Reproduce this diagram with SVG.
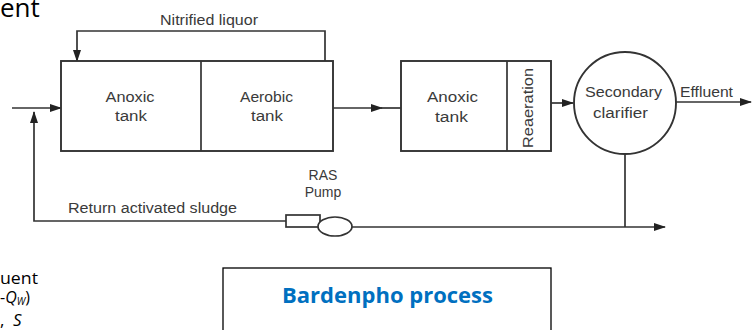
<svg xmlns="http://www.w3.org/2000/svg" width="756" height="330" viewBox="0 0 756 330">
<style>
.ln{fill:none;stroke:#333;stroke-width:1.7}
.bx{fill:#fff;stroke:#333;stroke-width:1.9}
.t{font-family:"Liberation Sans",Arial,sans-serif;font-size:14px;fill:#3a3a3a;text-anchor:middle}
.bg{font-family:"Open Sans","Noto Sans",sans-serif;fill:#000}
</style>
<defs>
<marker id="ah" markerWidth="12" markerHeight="8" refX="11" refY="4" orient="auto" markerUnits="userSpaceOnUse">
<path d="M0,0 L12,4 L0,8 Z" fill="#222"/>
</marker>
</defs>
<rect width="756" height="330" fill="#fff"/>
<text class="bg" x="0" y="17" font-size="26">ent</text>
<text class="bg" x="0" y="284" font-size="16" textLength="38" lengthAdjust="spacingAndGlyphs">uent</text>
<text class="bg" x="0" y="303" font-size="16">-<tspan font-style="italic">Q</tspan><tspan font-style="italic" font-size="10" dy="2">W</tspan><tspan dy="-2">)</tspan></text>
<text class="bg" x="0" y="326" font-size="17">,<tspan font-style="italic" x="13">S</tspan></text>

<g id="connectors">
<polyline class="ln" points="325,61 325,31 77,31 77,61" marker-end="url(#ah)"/>
<line class="ln" x1="12" y1="108" x2="61" y2="108" marker-end="url(#ah)"/>
<line class="ln" x1="333" y1="108" x2="382" y2="108" marker-end="url(#ah)"/>
<line class="ln" x1="380" y1="108" x2="401" y2="108"/>
<line class="ln" x1="551" y1="103" x2="573" y2="103" marker-end="url(#ah)"/>
<line class="ln" x1="676" y1="102" x2="751" y2="102" marker-end="url(#ah)"/>
<line class="ln" x1="625" y1="154" x2="625" y2="227"/>
<line class="ln" x1="352" y1="227" x2="665" y2="227" marker-end="url(#ah)"/>
<polyline class="ln" points="286,221 34,221 34,112" marker-end="url(#ah)"/>
</g>

<g id="tank1">
<rect class="bx" x="61" y="61" width="272" height="90"/>
<line class="ln" x1="201" y1="61" x2="201" y2="151"/>
<text class="t" x="130" y="101.5" textLength="49" lengthAdjust="spacingAndGlyphs">Anoxic</text>
<text class="t" x="131" y="121" textLength="32" lengthAdjust="spacingAndGlyphs">tank</text>
<text class="t" x="266.5" y="101.5" textLength="53" lengthAdjust="spacingAndGlyphs">Aerobic</text>
<text class="t" x="267" y="121" textLength="32" lengthAdjust="spacingAndGlyphs">tank</text>
</g>

<g id="tank2">
<rect class="bx" x="401" y="61" width="150" height="90"/>
<line class="ln" x1="507" y1="61" x2="507" y2="151"/>
<text class="t" x="452.5" y="101.5" textLength="51" lengthAdjust="spacingAndGlyphs">Anoxic</text>
<text class="t" x="451.5" y="121.5" textLength="33" lengthAdjust="spacingAndGlyphs">tank</text>
<text class="t" transform="translate(533,108) rotate(-90)" x="0" y="0" textLength="80" lengthAdjust="spacingAndGlyphs">Reaeration</text>
</g>

<g id="clarifier">
<circle cx="625" cy="103" r="51" fill="#fff" stroke="#333" stroke-width="1.9"/>
<text class="t" x="623.5" y="97" textLength="77" lengthAdjust="spacingAndGlyphs">Secondary</text>
<text class="t" x="620.5" y="118" textLength="55" lengthAdjust="spacingAndGlyphs">clarifier</text>
</g>

<g id="effluent">
<text class="t" x="706.5" y="97" textLength="53" lengthAdjust="spacingAndGlyphs">Effluent</text>
</g>

<g id="pump">
<rect x="286" y="215" width="34" height="12" fill="#fff" stroke="#333" stroke-width="1.7"/>
<ellipse cx="335" cy="226.5" rx="17" ry="9.5" fill="#fff" stroke="#333" stroke-width="1.7"/>
<text class="t" x="323" y="180">RAS</text>
<text class="t" x="323" y="197">Pump</text>
</g>

<g id="labels">
<text class="t" x="209" y="25" textLength="98" lengthAdjust="spacingAndGlyphs">Nitrified liquor</text>
<text class="t" x="152.5" y="213" textLength="169" lengthAdjust="spacingAndGlyphs">Return activated sludge</text>
</g>

<g id="title">
<rect x="223" y="268" width="328" height="80" fill="none" stroke="#000" stroke-width="1.3"/>
<text x="387.5" y="303" font-family="'Open Sans','Noto Sans',sans-serif" font-size="21" font-weight="bold" fill="#0070C0" text-anchor="middle" textLength="211" lengthAdjust="spacingAndGlyphs">Bardenpho process</text>
</g>
</svg>
